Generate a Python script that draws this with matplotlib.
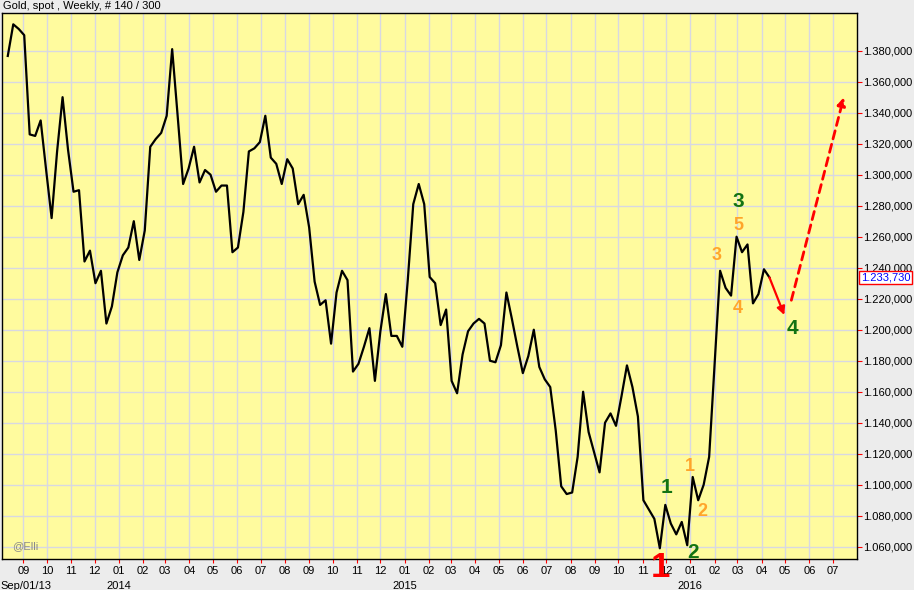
import matplotlib
matplotlib.use('Agg')
import matplotlib.pyplot as plt
import matplotlib.dates as mdates
import pandas as pd

plt.rcParams['font.family'] = ['Liberation Sans', 'DejaVu Sans']

# weekly closes (140 weeks)
first_week = '2013-08-12'
gold = [1376.6, 1397, 1394, 1390, 1326, 1325, 1335, 1303, 1272, 1315,
        1350, 1316, 1289, 1290, 1244, 1251, 1230, 1238, 1204, 1215,
        1237, 1248, 1253, 1270, 1245, 1264, 1318, 1323, 1327, 1338,
        1381, 1338, 1294, 1304, 1318, 1295, 1303, 1300, 1289, 1293,
        1293, 1250, 1253, 1276, 1315, 1317, 1321, 1338, 1311, 1307,
        1294, 1310, 1304, 1281, 1287, 1266, 1231, 1216, 1219, 1191,
        1224, 1238, 1232, 1173, 1178, 1189, 1201, 1167, 1199, 1223,
        1196, 1196, 1189, 1232, 1281, 1294, 1281, 1234, 1230, 1203,
        1213, 1167, 1159, 1184, 1199, 1204, 1207, 1204, 1180, 1179,
        1190, 1224, 1207, 1189, 1172, 1183, 1200, 1176, 1168, 1163,
        1135, 1099, 1094, 1095, 1118, 1160, 1134, 1121, 1108, 1140,
        1146, 1138, 1157, 1177, 1163, 1144, 1090, 1084, 1078, 1059,
        1087, 1075, 1068, 1076, 1061, 1105, 1090, 1100, 1118, 1178,
        1238, 1227, 1222, 1260, 1250, 1255, 1217, 1223, 1239, 1233.73]
weeks = pd.date_range(first_week, periods=len(gold), freq='7D')

price_ticks = list(range(1060, 1381, 20))
year_dates = ['2013-09-01', '2014-01-01', '2015-01-01', '2016-01-01']
year_texts = ['Sep/01/13', '2014', '2015', '2016']

# elliott wave counts: text, date, price, colour, size
wave_text = ['1', '2', '1', '1', '2', '3', '5', '3', '4', '4']
wave_date = ['2015-12-01', '2016-01-05', '2015-11-24', '2016-01-01', '2016-01-16',
             '2016-02-04', '2016-03-02', '2016-03-02', '2016-03-02', '2016-05-10']
wave_price = [1098.5, 1056, 1046.6, 1111.5, 1082.6, 1247.7, 1267.5, 1282.6, 1213.8, 1200.9]
wave_color = ['#137313', '#137313', '#FF0000', '#FFA52A', '#FFA52A', '#FFA52A',
              '#FFA52A', '#137313', '#FFA52A', '#137313']
wave_size = [15, 15, 25, 13, 13, 13, 13, 15, 13, 15]

drop_from = ('2016-04-11', 1233.73)
drop_to = ('2016-04-30', 1209.5)
target_from = ('2016-05-09', 1219)
target_to = ('2016-07-15', 1350)


def euro(v, dec=3):
    s = f"{v:.{dec}f}"
    whole, frac = s.split('.')
    return f"{whole[0]}.{whole[1:]},{frac}"


fig = plt.figure(figsize=(9.14, 5.90), dpi=100, facecolor='#ECECEC')
ax = fig.add_axes([2.3 / 914, 1 - 559 / 590, 854.4 / 914, 546 / 590])
ax.set_facecolor('#FFFB9E')

ax.plot(weeks, gold, color='black', lw=1.6, zorder=3)

ax.set_xlim(pd.Timestamp('2013-08-05'), pd.Timestamp('2016-07-31 12:00'))
ax.set_ylim(1052.1, 1404.3)

ax.xaxis.set_major_locator(mdates.MonthLocator())
ax.xaxis.set_major_formatter(mdates.DateFormatter('%m'))
ax.yaxis.tick_right()
ax.set_yticks(price_ticks)
ax.set_yticklabels([euro(v) for v in price_ticks])
ax.tick_params(axis='x', color='red', length=3, pad=2, labelsize=8)
ax.tick_params(axis='y', color='red', length=3.5, pad=1, labelsize=8)
ax.grid(True, color='#D8D8E2', lw=1.0)
ax.set_axisbelow(True)
for sp in ax.spines.values():
    sp.set_color('black')
    sp.set_linewidth(1.0)

for d, t in zip(year_dates, year_texts):
    shift = 3 if t.startswith('Sep') else 0
    ax.annotate(t, xy=(pd.Timestamp(d), 0), xycoords=('data', 'axes fraction'),
                xytext=(shift, -30), textcoords='offset pixels',
                ha='center', va='baseline', fontsize=8, annotation_clip=False)

for t, d, p, c, s in zip(wave_text, wave_date, wave_price, wave_color, wave_size):
    ax.text(pd.Timestamp(d), p, t, color=c, fontsize=s, fontweight='bold',
            ha='center', va='center', clip_on=False, zorder=5)

ax.annotate('', xy=(pd.Timestamp(drop_to[0]), drop_to[1]),
            xytext=(pd.Timestamp(drop_from[0]), drop_from[1]),
            arrowprops=dict(arrowstyle='-|>', color='red', lw=1.6,
                            mutation_scale=12, shrinkA=0, shrinkB=0))
ax.annotate('', xy=(pd.Timestamp(target_to[0]), target_to[1]),
            xytext=(pd.Timestamp(target_from[0]), target_from[1]),
            arrowprops=dict(arrowstyle='-|>', color='red', lw=2,
                            linestyle=(0, (3, 2)), mutation_scale=12,
                            shrinkA=0, shrinkB=0))

# last price box
ax.annotate(euro(gold[-1]), xy=(1, gold[-1]), xycoords=('axes fraction', 'data'),
            xytext=(4, 0), textcoords='offset pixels', ha='left', va='center',
            fontsize=8, color='#0000FF', annotation_clip=False,
            bbox=dict(boxstyle='square,pad=0.15', fc='white', ec='red', lw=1))

ax.text(0.012, 0.024, '@Elli', transform=ax.transAxes, color='#8A8A8A',
        fontsize=8, ha='left', va='center')
fig.text(3 / 914, 1 - 6 / 590, 'Gold, spot , Weekly, # 140 / 300',
         ha='left', va='center', fontsize=8)

fig.savefig('out.png', dpi=100, facecolor=fig.get_facecolor())
